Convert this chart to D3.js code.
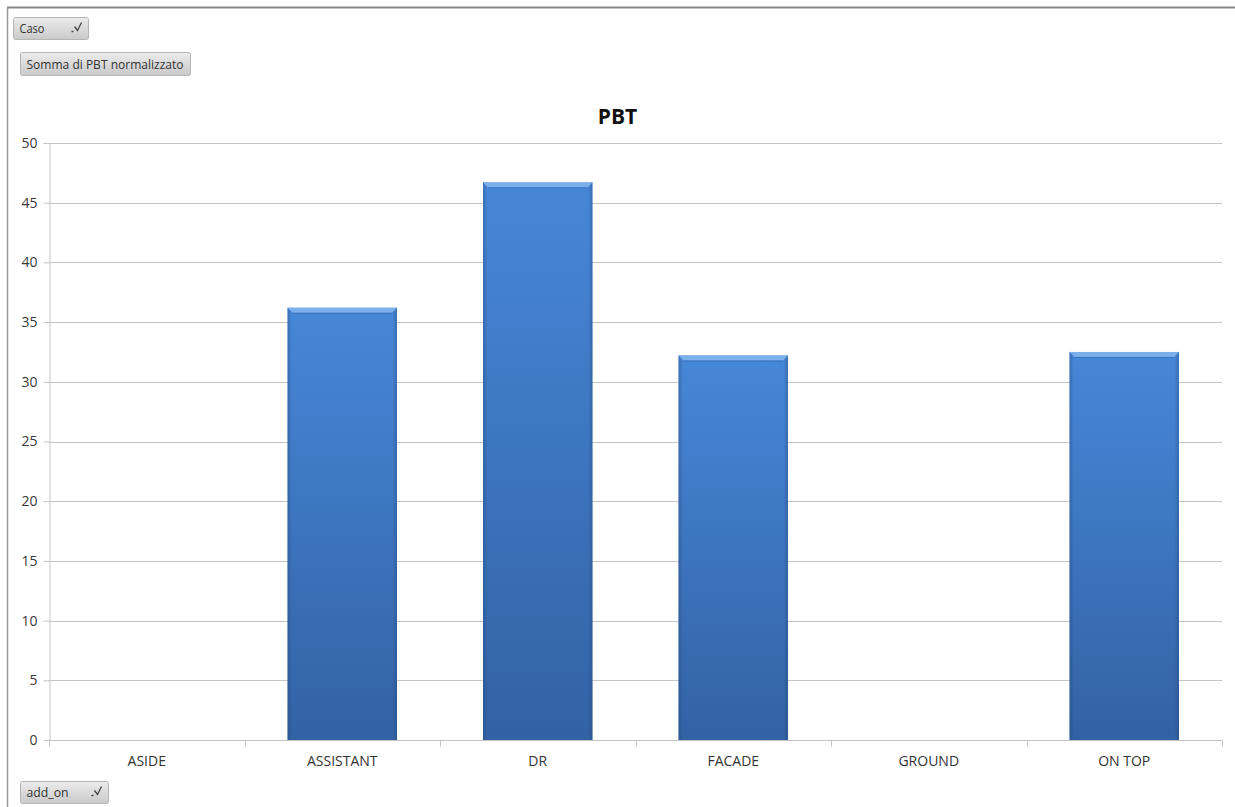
<!DOCTYPE html>
<html>
<head>
<meta charset="utf-8">
<script src="https://cdn.jsdelivr.net/npm/d3@7"></script>
<style>
  html, body { margin: 0; padding: 0; background: #fff; }
  svg { display: block; font-family: "Open Sans", "Noto Sans", sans-serif; }
</style>
</head>
<body>
<svg id="chart" width="1235" height="807"></svg>
<script>
const categories = ["ASIDE", "ASSISTANT", "DR", "FACADE", "GROUND", "ON TOP"];
const values = [0, 36.2, 46.7, 32.2, 0, 32.5];
const yTicks = [0, 5, 10, 15, 20, 25, 30, 35, 40, 45, 50];
const title = "PBT";
const fieldButtons = [
  { label: "Caso", filter: true, textW: 25 },
  { label: "Somma di PBT normalizzato", filter: false, textW: 157 },
  { label: "add_on", filter: true, textW: 42 }
];

const svg = d3.select("#chart");
const W = 1235, H = 807;
const m = { left: 49, right: 1222, top: 143, bottom: 740 };

// frame
svg.append("rect").attr("x", 0).attr("y", 0).attr("width", W).attr("height", H).attr("fill", "#fff");
svg.append("line").attr("x1", 7).attr("x2", W).attr("y1", 7.5).attr("y2", 7.5).attr("stroke", "#888").attr("stroke-width", 2);
svg.append("line").attr("x1", 7.5).attr("x2", 7.5).attr("y1", 7).attr("y2", H).attr("stroke", "#999").attr("stroke-width", 1.5);

const defs = svg.append("defs");
const grad = defs.append("linearGradient").attr("id", "barGrad").attr("x1", 0).attr("x2", 0).attr("y1", 0).attr("y2", 1);
grad.append("stop").attr("offset", "0%").attr("stop-color", "#4787d8");
grad.append("stop").attr("offset", "100%").attr("stop-color", "#3262a4");
const gradH = defs.append("linearGradient").attr("id", "barEdge").attr("x1", 0).attr("x2", 1).attr("y1", 0).attr("y2", 0);
gradH.append("stop").attr("offset", "0%").attr("stop-color", "#1f3f70").attr("stop-opacity", 0.35);
gradH.append("stop").attr("offset", "4%").attr("stop-color", "#1f3f70").attr("stop-opacity", 0);
gradH.append("stop").attr("offset", "96%").attr("stop-color", "#1f3f70").attr("stop-opacity", 0);
gradH.append("stop").attr("offset", "100%").attr("stop-color", "#1f3f70").attr("stop-opacity", 0.35);
const btnGrad = defs.append("linearGradient").attr("id", "btnGrad").attr("x1", 0).attr("x2", 0).attr("y1", 0).attr("y2", 1);
btnGrad.append("stop").attr("offset", "0%").attr("stop-color", "#ececec");
btnGrad.append("stop").attr("offset", "100%").attr("stop-color", "#c9c9c9");

const x = d3.scaleBand().domain(categories).range([m.left, m.right]).paddingInner(0.44).paddingOuter(0.22);
const xb = d3.scaleBand().domain(categories).range([m.left, m.right]);
const y = d3.scaleLinear().domain([0, 50]).range([m.bottom, m.top]);

// gridlines
svg.append("g").selectAll("line").data(yTicks.filter(d => d > 0)).join("line")
  .attr("x1", m.left).attr("x2", m.right)
  .attr("y1", d => Math.round(y(d)) + 0.5).attr("y2", d => Math.round(y(d)) + 0.5)
  .attr("stroke", "#c4c4c4").attr("stroke-width", 1);

// y axis
const yAxis = d3.axisLeft(y).tickValues(yTicks).tickSize(6).tickPadding(6);
const gy = svg.append("g").attr("transform", `translate(${m.left + 0.5},0)`).call(yAxis);
gy.select(".domain").attr("stroke", "#c4c4c4");
gy.selectAll(".tick line").attr("stroke", "#c4c4c4");
gy.selectAll(".tick text").attr("font-size", 14).attr("fill", "#3a3a3a").attr("font-family", "'Open Sans', sans-serif");

// x axis
const gx = svg.append("g").attr("transform", `translate(0,${m.bottom + 0.5})`);
gx.append("line").attr("x1", m.left).attr("x2", m.right).attr("stroke", "#c4c4c4");
gx.selectAll("line.t").data(categories.concat(["__end"])).join("line").attr("class", "t")
  .attr("x1", (d, i) => Math.round(i < categories.length ? xb(d) : m.right) + 0.5)
  .attr("x2", (d, i) => Math.round(i < categories.length ? xb(d) : m.right) + 0.5)
  .attr("y1", 0).attr("y2", 6).attr("stroke", "#c4c4c4");
gx.selectAll("text").data(categories).join("text")
  .attr("x", d => xb(d) + xb.bandwidth() / 2).attr("y", 25)
  .attr("text-anchor", "middle").attr("font-size", 14).attr("fill", "#333")
  .text(d => d);

// bars
const data = categories.map((c, i) => ({ c, v: values[i] })).filter(d => d.v > 0);
const bars = svg.append("g");
bars.selectAll("rect.b").data(data).join("rect").attr("class", "b")
  .attr("x", d => x(d.c)).attr("width", x.bandwidth())
  .attr("y", d => y(d.v)).attr("height", d => y(0) - y(d.v))
  .attr("fill", "url(#barGrad)");
bars.selectAll("rect.e").data(data).join("rect").attr("class", "e")
  .attr("x", d => x(d.c)).attr("width", x.bandwidth())
  .attr("y", d => y(d.v)).attr("height", d => y(0) - y(d.v))
  .attr("fill", "url(#barEdge)");
// top bevel cap
bars.selectAll("path.cap").data(data).join("path").attr("class", "cap")
  .attr("d", d => {
    const x0 = x(d.c), x1 = x0 + x.bandwidth(), y0 = y(d.v);
    return `M${x0},${y0} L${x1},${y0} L${x1 - 5},${y0 + 5} L${x0 + 5},${y0 + 5} Z`;
  })
  .attr("fill", "#7cb0ec");
bars.selectAll("line.cap2").data(data).join("line").attr("class", "cap2")
  .attr("x1", d => x(d.c) + 5).attr("x2", d => x(d.c) + x.bandwidth() - 5)
  .attr("y1", d => y(d.v) + 5.5).attr("y2", d => y(d.v) + 5.5)
  .attr("stroke", "#3a72bf").attr("stroke-width", 1);

// title
svg.append("text").attr("x", W / 2).attr("y", 124)
  .attr("text-anchor", "middle").attr("font-size", 21).attr("font-weight", "bold")
  .attr("fill", "#111").text(title);

// field buttons
function button(b, bx, by, bw, bh) {
  const g = svg.append("g").attr("transform", `translate(${bx},${by})`);
  g.append("rect").attr("width", bw).attr("height", bh).attr("rx", 2)
    .attr("fill", "url(#btnGrad)").attr("stroke", "#b5b5b5");
  g.append("text").attr("x", 6).attr("y", bh / 2 + 4.5).attr("font-size", 12)
    .attr("fill", "#333").attr("font-family", "'Open Sans', sans-serif")
    .attr("textLength", b.textW).attr("lengthAdjust", "spacingAndGlyphs")
    .text(b.label);
  if (b.filter) {
    g.append("path").attr("d", `M${bw - 17},${bh / 2 + 3} l2,0 M${bw - 14},${bh / 2 - 2} l3,4 l4,-8`)
      .attr("stroke", "#444").attr("stroke-width", 1.3).attr("fill", "none");
  }
}
button(fieldButtons[0], 13.5, 17.5, 75, 22);
button(fieldButtons[1], 20.5, 52.5, 170, 23);
button(fieldButtons[2], 20.5, 781.5, 88, 22);
</script>
</body>
</html>
